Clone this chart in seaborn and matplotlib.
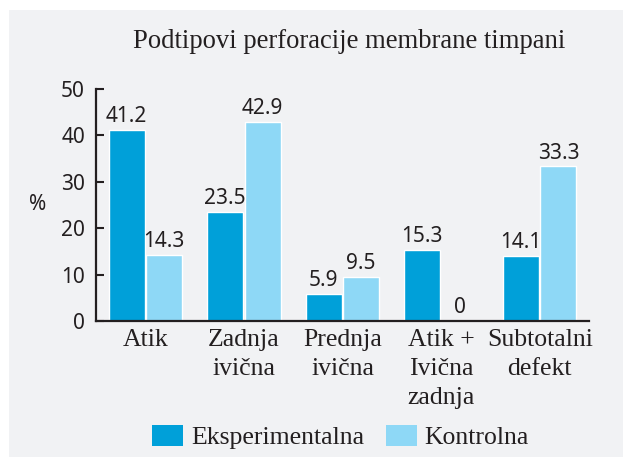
import matplotlib
matplotlib.use("Agg")
import matplotlib.pyplot as plt
import seaborn as sns
import pandas as pd
from matplotlib.patches import Rectangle, Patch

categories = ["Atik", "Zadnja\nivična", "Prednja\nivična", "Atik +\nIvična\nzadnja", "Subtotalni\ndefekt"]
experimental = [41.2, 23.5, 5.9, 15.3, 14.1]
control = [14.3, 42.9, 9.5, 0, 33.3]
series_names = ["Eksperimentalna", "Kontrolna"]
y_ticks = [0, 10, 20, 30, 40, 50]
title = "Podtipovi perforacije membrane timpani"

df = pd.DataFrame({
    "cat": categories * 2,
    "val": experimental + control,
    "grp": [series_names[0]] * 5 + [series_names[1]] * 5,
})

sns.set_theme(style="white")
SERIF = ["Liberation Serif", "DejaVu Serif"]
SANS = ["Noto Sans", "DejaVu Sans"]
TXT = "#231f20"
BG = "#f1f2f4"
C1, C2 = "#00a0d9", "#8ed8f6"

W, H = 623, 457
fig = plt.figure(figsize=(W / 100, H / 100), dpi=100, facecolor="white")
fig.patches.append(Rectangle((9 / W, 0), 1 - 9 / W, 1 - 10 / H, transform=fig.transFigure,
                             facecolor=BG, edgecolor="none", zorder=-10))

ax = fig.add_axes([96 / W, 1 - 321 / H, (589 - 96) / W, (321 - 89) / H])
ax.set_facecolor(BG)
ax.patch.set_alpha(0)

sns.barplot(data=df, x="cat", y="val", hue="grp", palette=[C1, C2], width=0.76, gap=0.04,
            ax=ax, order=categories, hue_order=series_names, saturation=1, legend=False)

for cont in ax.containers:
    ax.bar_label(cont, labels=[f"{v:g}" if v != 0 else "0" for v in cont.datavalues],
                 padding=2, fontsize=15, family=SANS, color=TXT)

ax.set_xlim(-0.5, 4.5)
ax.set_ylim(0, 50)
ax.set_yticks(y_ticks)
ax.set_yticklabels([str(t) for t in y_ticks], family=SANS, fontsize=15, color=TXT)
ax.set_xticks(range(5))
ax.set_xticklabels(categories, fontsize=18.5, color=TXT, linespacing=1.4)
for lab in ax.get_xticklabels():
    lab.set_family(SERIF)
ax.set_xticks([0.5, 1.5, 2.5, 3.5, 4.5], minor=True)
ax.tick_params(axis="x", which="major", length=0, pad=6)
ax.tick_params(axis="x", which="minor", direction="in", length=3.5, width=1.2, color=TXT)
ax.tick_params(axis="y", direction="in", length=6, width=1.5, color=TXT, pad=8, left=True)
ax.set_xlabel("")
ax.set_ylabel("")
for s in ["top", "right"]:
    ax.spines[s].set_visible(False)
for s in ["left", "bottom"]:
    ax.spines[s].set_color(TXT)
    ax.spines[s].set_linewidth(1.6)

fig.text(38 / W, 1 - 205 / H, "%", ha="center", va="center", family=SANS, fontsize=15, color=TXT)
fig.text(349 / W, 1 - 42 / H, title, ha="center", va="center", family=SERIF, fontsize=19.2, color=TXT)

handles = [Patch(facecolor=C1, edgecolor="none"), Patch(facecolor=C2, edgecolor="none")]
fig.legend(handles, series_names, loc="center", bbox_to_anchor=(340.5 / W, 1 - 437 / H), ncol=2,
           frameon=False, prop={"family": SERIF, "size": 18.5}, handlelength=1.2, handleheight=0.9,
           handletextpad=0.3, columnspacing=0.85, labelcolor=TXT, borderaxespad=0, borderpad=0)

fig.savefig("out.png", dpi=100, facecolor="white")
